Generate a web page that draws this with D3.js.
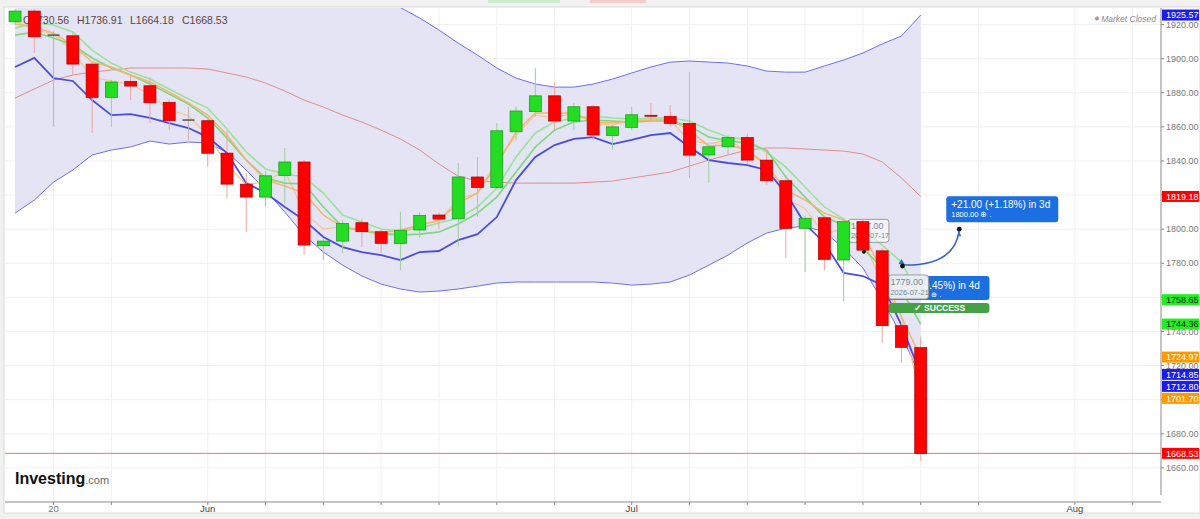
<!DOCTYPE html>
<html>
<head>
<meta charset="utf-8">
<script src="https://cdn.jsdelivr.net/npm/d3@7"></script>
<style>
body { margin: 0; background: #fff; overflow: hidden; }
svg { display: block; font-family: "Liberation Sans", Arial, sans-serif; }
</style>
</head>
<body>
<svg id="chart" width="1200" height="519"></svg>
<script>
// daily candles, index 0 = first visible session
const opens  = [1921.6,1927.9,1913.8,1913.4,1896.8,1877.3,1886.7,1884.1,1874.4,1864.0,1863.6,1844.6,1826.4,1818.8,1831.5,1839.4,1790.3,1793.0,1803.8,1798.5,1791.6,1799.5,1808.3,1806.1,1830.6,1824.4,1857.1,1868.9,1878.2,1863.4,1871.8,1855.0,1859.7,1866.8,1866.2,1862.0,1843.5,1848.3,1853.8,1840.5,1828.4,1800.5,1806.7,1781.9,1804.4,1787.3,1743.4,1730.56];
const highs  = [1929.0,1929.0,1916.0,1915.0,1897.5,1887.5,1890.4,1889.2,1876.0,1871.6,1864.5,1858.0,1832.9,1834.0,1847.6,1840.5,1794.5,1805.0,1806.0,1799.5,1810.2,1810.0,1810.0,1838.8,1842.3,1862.2,1872.0,1894.5,1886.0,1874.0,1873.0,1861.0,1871.8,1874.0,1872.8,1892.3,1850.0,1855.0,1856.0,1846.4,1830.0,1808.0,1808.0,1806.0,1805.5,1789.0,1745.0,1736.91];
const lows   = [1920.0,1903.3,1860.0,1890.0,1856.4,1860.0,1875.7,1862.2,1858.1,1852.2,1836.6,1818.0,1798.3,1813.0,1815.0,1784.8,1781.9,1786.0,1789.5,1786.0,1776.0,1795.0,1800.0,1790.0,1807.1,1823.0,1852.0,1866.0,1858.0,1858.0,1852.3,1846.4,1858.0,1864.0,1860.0,1830.0,1827.0,1844.0,1838.0,1826.0,1783.1,1775.0,1776.0,1757.5,1786.0,1733.0,1721.5,1664.18];
const closes = [1927.9,1912.8,1913.8,1896.8,1877.3,1886.3,1883.9,1874.1,1863.6,1864.0,1844.5,1826.4,1818.8,1831.3,1839.4,1790.7,1793.0,1803.4,1798.5,1791.7,1799.4,1808.1,1805.9,1830.6,1824.5,1857.7,1869.3,1878.2,1863.4,1871.8,1855.2,1860.0,1867.1,1866.2,1862.0,1843.4,1848.3,1853.8,1840.5,1828.4,1800.5,1806.4,1782.3,1804.4,1787.7,1743.4,1730.7,1668.53];

// Bollinger bands
const bbUpper  = [1944.4,1947.3,1947.2,1946.1,1940.7,1940.2,1940.8,1937.3,1939.1,1937.9,1937.3,1938.0,1943.7,1948.5,1952.0,1954.9,1956.6,1954.9,1948.0,1940.0,1930.0,1923.8,1916.8,1909.1,1902.1,1894.5,1888.6,1885.1,1883.3,1883.3,1885.1,1888.0,1891.6,1895.1,1898.0,1898.6,1898.0,1897.4,1895.7,1892.7,1892.1,1892.1,1895.7,1899.2,1903.3,1908.6,1913.3,1925.57];
const bbMiddle = [1876.9,1882.2,1887.4,1890.4,1892.1,1893.3,1894.5,1894.5,1894.5,1894.5,1893.9,1891.6,1889.2,1885.7,1881.0,1875.7,1871.6,1866.9,1862.8,1858.1,1852.9,1846.4,1838.2,1831.1,1828.2,1827.6,1827.0,1827.0,1827.0,1827.0,1827.6,1828.2,1830.0,1831.7,1833.5,1837.0,1840.5,1843.5,1846.4,1847.6,1847.6,1847.0,1846.4,1845.8,1844.1,1839.4,1830.0,1819.18];
const bbLower  = [1809.4,1817.1,1827.6,1834.7,1843.5,1846.4,1848.2,1851.7,1849.9,1851.1,1850.5,1845.2,1834.7,1822.9,1810.0,1796.5,1786.6,1778.9,1772.5,1767.8,1764.9,1763.1,1763.7,1764.9,1766.6,1768.4,1769.0,1769.0,1769.0,1769.0,1769.0,1768.4,1767.2,1767.8,1769.0,1773.1,1778.9,1784.8,1791.9,1797.7,1800.6,1801.8,1798.3,1788.9,1777.2,1758.4,1737.9,1712.80];

// moving averages
const maBlue    = [1895.1,1900.4,1888.6,1886.9,1875.7,1866.9,1867.5,1865.2,1862.2,1859.3,1854.0,1844.6,1827.0,1821.2,1813.0,1805.3,1795.4,1789.5,1786.6,1784.8,1781.9,1786.6,1787.2,1793.6,1797.1,1807.1,1828.8,1842.3,1849.3,1852.9,1854.0,1849.9,1852.3,1855.2,1856.4,1848.2,1840.5,1838.8,1837.6,1834.7,1821.2,1803.0,1791.9,1774.3,1772.5,1767.2,1743.8,1714.85];
const maGreenA  = [1917.9,1920.9,1919.7,1915.6,1905.0,1897.4,1892.1,1888.0,1882.2,1876.3,1871.0,1858.7,1845.2,1835.3,1832.3,1830.6,1821.2,1808.3,1804.2,1800.1,1798.9,1800.6,1803.6,1806.5,1813.0,1824.1,1842.3,1856.4,1862.8,1865.2,1866.3,1865.2,1864.6,1865.2,1865.2,1863.4,1858.1,1854.0,1852.3,1845.2,1836.4,1824.7,1813.0,1805.9,1799.5,1790.7,1780.7,1758.65];
const maGreenB  = [1913.8,1915.6,1912.1,1908.0,1900.4,1894.5,1890.4,1885.1,1879.2,1873.4,1865.2,1853.4,1840.5,1830.0,1827.0,1826.5,1813.0,1801.2,1798.9,1797.7,1796.5,1797.1,1798.3,1803.0,1809.4,1818.8,1833.5,1848.2,1858.1,1862.8,1864.0,1863.4,1862.8,1863.4,1863.4,1860.5,1854.0,1851.7,1850.5,1846.4,1830.6,1818.8,1807.1,1802.4,1788.9,1777.2,1764.3,1744.36];
const maOrangeA = [1920.3,1918.5,1915.0,1908.0,1898.0,1895.1,1890.4,1886.3,1880.4,1874.0,1866.9,1855.2,1840.5,1828.8,1825.3,1821.2,1808.3,1801.2,1799.5,1797.7,1799.5,1802.4,1805.3,1815.3,1821.2,1837.6,1857.0,1868.1,1868.1,1868.1,1862.8,1862.2,1863.4,1864.0,1864.0,1858.1,1848.7,1849.3,1846.4,1837.6,1822.9,1817.1,1809.4,1805.3,1798.3,1774.8,1748.5,1724.97];
const maOrangeB = [1922.0,1917.0,1914.5,1904.0,1889.0,1887.0,1885.0,1879.0,1870.0,1866.5,1855.0,1838.0,1826.0,1828.0,1834.0,1810.0,1800.0,1801.5,1800.0,1795.5,1797.5,1803.0,1804.5,1818.0,1821.0,1840.0,1855.0,1867.0,1865.0,1868.5,1862.0,1861.0,1864.0,1865.0,1863.5,1852.0,1850.0,1852.0,1846.0,1837.0,1818.0,1812.0,1797.0,1800.5,1794.0,1768.0,1749.0,1701.70];

// axes
const yTicks = [1660,1680,1700,1720,1740,1760,1780,1800,1820,1840,1860,1880,1900,1920];
const xTickIdx = [2,5,10,13,16,19,22,25,28,32,35,38,41,44,47,50,55,58];
const xTickIdxLabelled = [2,10,32,55];
const xTickText = ["20","Jun","Jul","Aug"];

// right-hand price tags
const tagValues = [1925.57,1819.18,1758.65,1744.36,1724.97,1714.85,1712.80,1701.70,1668.53];
const tagFills  = ["#1c1cf0","#ff0000","#22ee22","#22ee22","#ff9900","#1c1cf0","#1c1cf0","#ff9900","#ff0000"];
const tagInks   = ["#fff","#fff","#111","#111","#fff","#fff","#fff","#fff","#fff"];

// prediction markers
const predStartIdx = 44, predStartPrice = 1787.00;
const predMidIdx = 46, predMidPrice = 1779.00;
const predEndIdx = 49, predEndPrice = 1800.00;

const svg = d3.select("#chart");
const W = 1200, H = 519;
const plot = { left: 5, right: 1161, top: 8, bottom: 502 };

const x = d3.scaleLinear().domain([-0.5, 59.5]).range([5.4, 1161.6]);
const y = d3.scaleLinear().domain([1640, 1929.7]).range([plot.bottom, plot.top]);

// frame
svg.append("rect").attr("width", W).attr("height", H).attr("fill", "#f1f1f1");
svg.append("rect").attr("x", 4).attr("y", 7).attr("width", W - 4).attr("height", 506)
    .attr("fill", "#fff").attr("stroke", "#dcdcdc");
svg.append("rect").attr("x", 488).attr("y", 0).attr("width", 72).attr("height", 3).attr("fill", "#cdeccd");
svg.append("rect").attr("x", 590).attr("y", 0).attr("width", 56).attr("height", 3).attr("fill", "#f3cccc");

svg.append("defs").append("clipPath").attr("id", "clip")
    .append("rect").attr("x", plot.left).attr("y", plot.top)
    .attr("width", plot.right - plot.left).attr("height", plot.bottom - plot.top);

// grid
const grid = svg.append("g");
grid.selectAll(".hg").data(yTicks).join("line")
    .attr("x1", plot.left).attr("x2", plot.right)
    .attr("y1", d => y(d)).attr("y2", d => y(d))
    .attr("stroke", "#f1f1f1");
grid.selectAll(".vg").data(xTickIdx).join("line")
    .attr("x1", d => x(d)).attr("x2", d => x(d))
    .attr("y1", plot.top).attr("y2", plot.bottom)
    .attr("stroke", "#f1f1f1");

const g = svg.append("g").attr("clip-path", "url(#clip)");

// bollinger fill
const band = d3.area()
    .x((d, i) => x(i))
    .y0((d, i) => y(bbLower[i]))
    .y1(d => y(d));
g.append("path").datum(bbUpper).attr("d", band).attr("fill", "#e4e4f4");

const line = d3.line().x((d, i) => x(i)).y(d => y(d));

g.append("path").datum(bbUpper).attr("d", line).attr("fill", "none").attr("stroke", "#6f6fee").attr("stroke-width", 1);
g.append("path").datum(bbLower).attr("d", line).attr("fill", "none").attr("stroke", "#6f6fee").attr("stroke-width", 1);
g.append("path").datum(bbMiddle).attr("d", line).attr("fill", "none").attr("stroke", "#e68c8c").attr("stroke-width", 1);

// last price line
g.append("line")
    .attr("x1", plot.left).attr("x2", plot.right)
    .attr("y1", y(closes[closes.length - 1])).attr("y2", y(closes[closes.length - 1]))
    .attr("stroke", "#ff6b6b").attr("stroke-width", 1);

g.append("path").datum(maOrangeB).attr("d", line).attr("fill", "none").attr("stroke", "#f8c48c").attr("stroke-width", 1.2);
g.append("path").datum(maGreenA).attr("d", line).attr("fill", "none").attr("stroke", "#9be39b").attr("stroke-width", 1.6);
g.append("path").datum(maGreenB).attr("d", line).attr("fill", "none").attr("stroke", "#7ad97a").attr("stroke-width", 1.6);
g.append("path").datum(maOrangeA).attr("d", line).attr("fill", "none").attr("stroke", "#f6b46e").attr("stroke-width", 1.5);
g.append("path").datum(maBlue).attr("d", line).attr("fill", "none").attr("stroke", "#4b4be0").attr("stroke-width", 1.8);

// OHLC readout (sits under the candles)
const ohlc = svg.append("text").attr("y", 24)
    .style("font-size", "10.5px").attr("fill", "#5c4444");
[["O1730.56", 23], ["H1736.91", 77], ["L1664.18", 130], ["C1668.53", 182]].forEach(([t, px]) => {
    ohlc.append("tspan").attr("x", px).text(t);
});

// prediction annotations
const ann = svg.append("g").attr("clip-path", "url(#clip)");
const p1 = [x(predStartIdx), y(predStartPrice)];
const p2 = [x(predMidIdx), y(predMidPrice)];
const p3 = [x(predEndIdx), y(predEndPrice)];

ann.append("rect").attr("x", p1[0] - 15).attr("y", p1[1] - 32).attr("width", 41).attr("height", 23)
    .attr("rx", 3).attr("fill", "rgba(255,255,255,0.55)").attr("stroke", "#9a9a9a");
ann.append("text").attr("x", p1[0] - 12).attr("y", p1[1] - 22).attr("font-size", 9).attr("fill", "#888").text(predStartPrice.toFixed(2));
ann.append("text").attr("x", p1[0] - 12).attr("y", p1[1] - 13).attr("font-size", 7.5).attr("fill", "#888").text("2026-07-17");

ann.append("rect").attr("x", p2[0] - 13).attr("y", p2[1] + 11).attr("width", 101).attr("height", 24)
    .attr("rx", 3).attr("fill", "#1c6fe0");
ann.append("text").attr("x", p2[0] - 10).attr("y", p2[1] + 24).attr("font-size", 10).attr("fill", "#fff")
    .text("-8.00 (-0.45%) in 4d");
ann.append("text").attr("x", p2[0] + 30).attr("y", p2[1] + 32).attr("font-size", 7).attr("fill", "#fff").text("⊕ .");
ann.append("rect").attr("x", p2[0] - 13).attr("y", p2[1] + 10).attr("width", 40).attr("height", 24)
    .attr("rx", 3).attr("fill", "rgba(246,246,246,0.92)").attr("stroke", "#9a9a9a");
ann.append("text").attr("x", p2[0] - 11).attr("y", p2[1] + 20).attr("font-size", 9).attr("fill", "#888").text(predMidPrice.toFixed(2));
ann.append("text").attr("x", p2[0] - 11).attr("y", p2[1] + 30).attr("font-size", 7.5).attr("fill", "#888").text("2026-07-21");

ann.append("rect").attr("x", p2[0] - 13).attr("y", p2[1] + 38).attr("width", 101).attr("height", 10)
    .attr("rx", 3).attr("fill", "#45a145");
ann.append("text").attr("x", p2[0] + 38).attr("y", p2[1] + 46.5).attr("text-anchor", "middle")
    .attr("font-size", 8.5).attr("font-weight", "bold").attr("fill", "#fff").text("✓ SUCCESS");

ann.append("path")
    .attr("d", `M${p2[0]},${p2[1]} Q${p3[0] - 4},${p2[1] + 2} ${p3[0]},${p3[1]}`)
    .attr("fill", "none").attr("stroke", "#2f5fd6").attr("stroke-width", 1.5);
ann.append("path").attr("d", `M${p2[0] - 3},${p2[1] - 1} l3,-5 l3,5 z`).attr("fill", "#2f6fe0");
ann.append("path").attr("d", `M${p3[0] - 2},${p3[1] + 7} l2,-5 l2,5 z`).attr("fill", "#2f6fe0");
ann.append("circle").attr("cx", p2[0] + 1).attr("cy", p2[1] + 1).attr("r", 2.4).attr("fill", "#111");
ann.append("circle").attr("cx", p3[0]).attr("cy", p3[1]).attr("r", 2.4).attr("fill", "#111");

ann.append("rect").attr("x", p3[0] - 13).attr("y", p3[1] - 33).attr("width", 112).attr("height", 26)
    .attr("rx", 3).attr("fill", "#1c6fe0");
ann.append("text").attr("x", p3[0] - 8).attr("y", p3[1] - 21).attr("font-size", 10).attr("fill", "#fff")
    .text("+21.00 (+1.18%) in 3d");
ann.append("text").attr("x", p3[0] - 8).attr("y", p3[1] - 12).attr("font-size", 7.5).attr("fill", "#fff")
    .text(predEndPrice.toFixed(2) + " ⊕ .");

// candles
const candles = d3.range(opens.length).map(i => ({ i, o: opens[i], h: highs[i], l: lows[i], c: closes[i] }));
const cg = svg.append("g").attr("clip-path", "url(#clip)");

cg.selectAll(".wick").data(candles).join("line")
    .attr("class", "wick")
    .attr("x1", d => x(d.i)).attr("x2", d => x(d.i))
    .attr("y1", d => y(d.h)).attr("y2", d => y(d.l))
    .attr("stroke", d => d.c > d.o ? "#9ccf9c" : d.c < d.o ? "#f2a3a3" : "#c4b0b0")
    .attr("stroke-width", 1);

cg.selectAll(".body").data(candles).join("rect")
    .attr("class", "body")
    .attr("x", d => x(d.i) - 6).attr("width", 12)
    .attr("y", d => d.c === d.o ? y(d.c) - 0.75 : y(Math.max(d.o, d.c)))
    .attr("height", d => d.c === d.o ? 1.5 : Math.max(1, Math.abs(y(d.o) - y(d.c))))
    .attr("fill", d => d.c > d.o ? "#22dd22" : d.c < d.o ? "#ff0000" : "#555")
    .attr("stroke", d => d.c > d.o ? "#1a951a" : d.c < d.o ? "#b00000" : "none")
    .attr("stroke-width", 0.7);

svg.append("circle").attr("cx", p1[0] + 1).attr("cy", p1[1] + 0.5).attr("r", 2).attr("fill", "#111");

// axes
svg.append("line").attr("x1", plot.right).attr("x2", plot.right).attr("y1", plot.top).attr("y2", 495)
    .attr("stroke", "#8a8a8a");
svg.append("line").attr("x1", plot.left).attr("x2", plot.right).attr("y1", plot.bottom).attr("y2", plot.bottom)
    .attr("stroke", "#8a8a8a");

svg.selectAll(".ytick").data(yTicks).join("line")
    .attr("x1", plot.right).attr("x2", plot.right + 3)
    .attr("y1", d => y(d)).attr("y2", d => y(d)).attr("stroke", "#8a8a8a");
svg.selectAll(".ylab").data(yTicks).join("text")
    .attr("x", plot.right + 5).attr("y", d => y(d) + 3.2)
    .attr("font-size", 9).attr("fill", "#7a7a7a")
    .text(d => d.toFixed(2));

svg.selectAll(".xtick").data(xTickIdx).join("line")
    .attr("x1", d => x(d)).attr("x2", d => x(d))
    .attr("y1", plot.bottom).attr("y2", plot.bottom + 3).attr("stroke", "#8a8a8a");
svg.selectAll(".xlab").data(xTickIdxLabelled).join("text")
    .attr("x", d => x(d)).attr("y", 512).attr("text-anchor", "middle")
    .attr("font-size", 9.5).attr("fill", (d, i) => i === 0 ? "#777" : "#444")
    .text((d, i) => xTickText[i]);

// price tags, nudged apart when they collide
const tagH = 12;
const tags = tagValues.map((v, i) => ({ v, fill: tagFills[i], ink: tagInks[i], ty: y(v) }))
    .sort((a, b) => a.ty - b.ty);
tags.forEach((t, i) => { if (i > 0) t.ty = Math.max(t.ty, tags[i - 1].ty + tagH); });
const tg = svg.append("g");
tg.selectAll("rect").data(tags).join("rect")
    .attr("x", plot.right + 1).attr("y", d => d.ty - 5.5).attr("width", W - plot.right - 2).attr("height", 11)
    .attr("fill", d => d.fill);
tg.selectAll("text").data(tags).join("text")
    .attr("x", plot.right + 5).attr("y", d => d.ty + 3.3)
    .attr("font-size", 9).attr("fill", d => d.ink)
    .text(d => d.v.toFixed(2));

// market status
svg.append("circle").attr("cx", 1097).attr("cy", 18.5).attr("r", 2).attr("fill", "#999");
svg.append("text").attr("x", 1156).attr("y", 22).attr("text-anchor", "end")
    .attr("font-size", 8.5).attr("font-style", "italic")
    .attr("fill", "#8a8a8a").text("Market Closed");

// watermark
const wm = svg.append("text").attr("x", 15).attr("y", 484);
wm.append("tspan").attr("font-size", 16).attr("font-weight", "bold").attr("fill", "#111").text("Investing");
wm.append("tspan").attr("font-size", 11).attr("fill", "#666").text(".com");
</script>
</body>
</html>
